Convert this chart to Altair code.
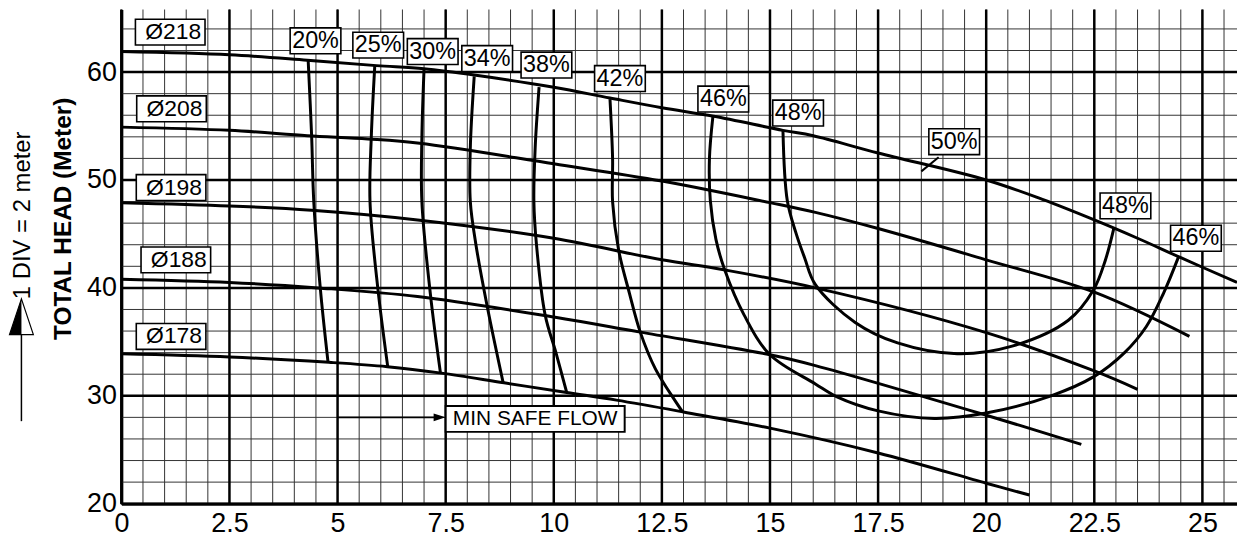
import altair as alt
import pandas as pd

# ---------------- axis ticks / grid ----------------
x_ticks = [0, 2.5, 5, 7.5, 10, 12.5, 15, 17.5, 20, 22.5, 25]
y_ticks = [20, 30, 40, 50, 60]
x_minor = [i * 0.5 for i in range(0, 52)]
y_minor = list(range(22, 68, 2))

# ---------------- impeller diameter curves ----------------
d218_x = [0, 2.5, 4.3, 5.9, 7.0, 8.2, 10, 11.3, 12.5, 13.7, 15.3, 16.0, 17.5, 20, 21.3, 22.5, 23.5, 24.5, 25.8]
d218_y = [61.9, 61.6, 61.1, 60.6, 60.3, 59.7, 58.6, 57.6, 56.7, 55.9, 54.6, 54.1, 52.5, 50.0, 48.2, 46.3, 44.6, 42.8, 40.5]

d208_x = [0, 2.5, 4.3, 5.7, 6.9, 10, 12.5, 15, 16.05, 17.5, 20, 22.5, 24.7]
d208_y = [54.9, 54.6, 54.1, 53.8, 53.4, 51.5, 49.9, 47.9, 47.0, 45.5, 42.6, 39.6, 35.5]

d198_x = [0, 2.5, 4.4, 6.85, 10, 12.5, 13.9, 16.05, 20, 22.5, 23.5]
d198_y = [47.9, 47.6, 47.2, 46.3, 44.6, 42.6, 41.7, 40.0, 35.85, 32.3, 30.6]

d188_x = [0, 2.5, 4.55, 6.85, 10, 12, 15, 16.05, 20, 22.2]
d188_y = [40.8, 40.5, 40.0, 39.2, 37.3, 35.9, 33.8, 32.8, 28.2, 25.5]

d178_x = [0, 2.5, 4.8, 6.15, 7.4, 8.85, 10.3, 11.45, 13.0, 15, 17.5, 20, 21.0]
d178_y = [33.9, 33.6, 33.1, 32.7, 32.1, 31.2, 30.3, 29.6, 28.5, 27.0, 24.7, 21.9, 20.8]

# ---------------- iso-efficiency curves ----------------
e20_x = [4.32, 4.4, 4.45, 4.6, 4.78]
e20_y = [61.1, 54.1, 48.0, 40.0, 33.1]
e25_x = [5.86, 5.78, 5.75, 5.93, 6.16]
e25_y = [60.55, 54.0, 48.0, 40.0, 32.7]
e30_x = [7.0, 6.95, 6.95, 7.15, 7.38]
e30_y = [60.3, 54.0, 48.0, 39.3, 32.1]
e34_x = [8.16, 8.07, 8.07, 8.2, 8.46, 8.83]
e34_y = [59.6, 53.0, 48.0, 44.0, 38.3, 31.2]
e38_x = [9.66, 9.57, 9.54, 9.6, 9.8, 10.05, 10.3]
e38_y = [58.6, 53.0, 48.0, 44.0, 37.5, 34.0, 30.3]
e42_x = [11.3, 11.36, 11.36, 11.5, 11.75, 12.0, 12.35, 12.98]
e42_y = [57.5, 52.0, 48.0, 43.5, 39.5, 35.9, 32.5, 28.5]
e46_x = [13.68, 13.6, 13.62, 13.75, 13.95, 14.4, 15.0, 16.05, 16.55, 17.5, 18.8, 20.0, 21.5, 22.5, 23.2, 23.7, 24.1, 24.45]
e46_y = [55.9, 52.0, 48.1, 44.5, 41.7, 37.5, 33.8, 31.1, 29.9, 28.6, 27.9, 28.4, 30.0, 31.8, 34.0, 36.4, 39.5, 42.9]
e48_x = [15.3, 15.4, 15.6, 15.8, 16.05, 16.97, 17.95, 19.33, 20.6, 21.9, 22.48, 22.75, 22.95]
e48_y = [54.6, 48.1, 45.1, 42.8, 40.3, 36.8, 34.9, 33.9, 34.6, 37.0, 39.8, 42.5, 45.5]
e50_x = [18.5, 18.9]
e50_y = [50.8, 52.1]

# ---------------- labels ----------------
dia_labels = ["Ø218", "Ø208", "Ø198", "Ø188", "Ø178"]
dia_label_x = [1.13, 1.16, 1.15, 1.26, 1.15]
dia_label_y = [63.7, 56.6, 49.3, 42.6, 35.5]

eff_labels = ["20%", "25%", "30%", "34%", "38%", "42%", "46%", "48%", "50%", "48%", "46%"]
eff_label_x = [4.49, 5.94, 7.2, 8.46, 9.83, 11.53, 13.92, 15.65, 19.26, 23.22, 24.85]
eff_label_y = [62.9, 62.5, 61.9, 61.25, 60.65, 59.4, 57.5, 56.2, 53.55, 47.6, 44.6]

msf_label = ["MIN SAFE FLOW"]
msf_label_x = [9.57]
msf_label_y = [27.85]
msf_arrow_x = [5.0, 7.36]
msf_arrow_y = [28.0, 28.0]

FONT = "Liberation Sans"

# ---------------- build tables ----------------
curves = {
    "d218": (d218_x, d218_y), "d208": (d208_x, d208_y), "d198": (d198_x, d198_y),
    "d188": (d188_x, d188_y), "d178": (d178_x, d178_y),
    "e20": (e20_x, e20_y), "e25": (e25_x, e25_y), "e30": (e30_x, e30_y),
    "e34": (e34_x, e34_y), "e38": (e38_x, e38_y), "e42": (e42_x, e42_y),
    "e46": (e46_x, e46_y), "e48": (e48_x, e48_y),
}
rows = []
for name, (xs_, ys_) in curves.items():
    for i, (a, b) in enumerate(zip(xs_, ys_)):
        rows.append({"curve": name, "order": i, "x": a, "y": b})
curve_df = pd.DataFrame(rows)
tick50_df = pd.DataFrame({"x": e50_x, "y": e50_y, "order": [0, 1]})

dia_df = pd.DataFrame({"label": dia_labels, "x": dia_label_x, "y": dia_label_y})
eff_df = pd.DataFrame({"label": eff_labels, "x": eff_label_x, "y": eff_label_y})
msf_df = pd.DataFrame({"label": msf_label, "x": msf_label_x, "y": msf_label_y})
arrow_df = pd.DataFrame({"x": msf_arrow_x, "y": msf_arrow_y})
arrow_head_df = pd.DataFrame({"x": msf_arrow_x[-1:], "y": msf_arrow_y[-1:]})
dummy = pd.DataFrame({"a": [0]})

xs = alt.Scale(domain=[0, 25.8], nice=False, zero=False)
ys = alt.Scale(domain=[20, 65.8], nice=False, zero=False)

x_axis = alt.Axis(
    values=x_ticks, labelExpr="'' + datum.value", title=None, grid=False, ticks=False,
    labelFontSize=27, labelFont=FONT, labelColor="black", domainColor="black", domainWidth=3,
    labelPadding=7, labelFlush=False, orient="bottom")
y_axis = alt.Axis(
    values=y_ticks, labelExpr="'' + datum.value", title="TOTAL HEAD (Meter)", grid=False,
    ticks=False, labelFontSize=27, labelFont=FONT, labelColor="black", domainColor="black",
    domainWidth=3, labelPadding=5, labelFlush=False, orient="left", titleFont=FONT,
    titleFontSize=24.5, titleFontWeight="bold", titleColor="black", titleAngle=270, titleX=-58,
    titleY=210, titleAlign="center", titleBaseline="middle")

X = lambda: alt.X("x:Q", scale=xs, axis=x_axis)
Y = lambda: alt.Y("y:Q", scale=ys, axis=y_axis)

minor_v = alt.Chart(pd.DataFrame({"x": x_minor})).mark_rule(color="#333", strokeWidth=1).encode(x=X())
minor_h = alt.Chart(pd.DataFrame({"y": y_minor})).mark_rule(color="#333", strokeWidth=1).encode(y=Y())
major_v = alt.Chart(pd.DataFrame({"x": x_ticks})).mark_rule(color="black", strokeWidth=2.5).encode(x=X())
major_h = alt.Chart(pd.DataFrame({"y": y_ticks})).mark_rule(color="black", strokeWidth=2.5).encode(y=Y())

lines = alt.Chart(curve_df).mark_line(color="black", strokeWidth=3, interpolate="catmull-rom", clip=True).encode(
    x=X(), y=Y(), detail="curve:N", order="order:Q")
tick50 = alt.Chart(tick50_df).mark_line(color="black", strokeWidth=2).encode(x=X(), y=Y(), order="order:Q")

dia_box = alt.Chart(dia_df).mark_point(
    shape="M-1,-0.371L1,-0.371L1,0.371L-1,0.371Z", size=4900, filled=True, fill="white",
    stroke="black", strokeWidth=1.6, opacity=1).encode(x=X(), y=Y())
dia_text = alt.Chart(dia_df).mark_text(font=FONT, fontSize=23, color="black", dx=3).encode(
    x=X(), y=Y(), text="label:N")
eff_box = alt.Chart(eff_df).mark_point(
    shape="M-1,-0.51L1,-0.51L1,0.51L-1,0.51Z", size=2601, filled=True, fill="white",
    stroke="black", strokeWidth=1.6, opacity=1).encode(x=X(), y=Y())
eff_text = alt.Chart(eff_df).mark_text(font=FONT, fontSize=23.5, color="black").encode(
    x=X(), y=Y(), text="label:N")
msf_box = alt.Chart(msf_df).mark_point(
    shape="M-1,-0.144L1,-0.144L1,0.144L-1,0.144Z", size=32400, filled=True, fill="white",
    stroke="black", strokeWidth=2, opacity=1).encode(x=X(), y=Y())
msf_text = alt.Chart(msf_df).mark_text(font=FONT, fontSize=21, color="black").encode(
    x=X(), y=Y(), text="label:N")
msf_arrow = alt.Chart(arrow_df).mark_line(color="black", strokeWidth=1.6).encode(x=X(), y=Y())
msf_head = alt.Chart(arrow_head_df).mark_point(
    shape="M1,0L-1,-0.65L-1,0.65Z", size=144, filled=True, color="black", opacity=1).encode(x=X(), y=Y())

# left-side "1 DIV = 2 meter" annotation
div_text = alt.Chart(dummy).mark_text(
    text="1 DIV = 2 meter", font=FONT, fontSize=24, angle=270, align="center", baseline="middle",
    color="black").encode(x=alt.value(-99), y=alt.value(207))
div_line = alt.Chart(dummy).mark_rule(color="black", strokeWidth=1.5).encode(
    x=alt.value(-100.5), y=alt.value(327), y2=alt.value(414))
div_head_outline = alt.Chart(dummy).mark_point(
    shape="M0,-1L0.667,1L-0.667,1Z", size=1296, filled=True, fill="white", stroke="black",
    strokeWidth=1.2, opacity=1).encode(x=alt.value(-100.5), y=alt.value(309))
div_head_fill = alt.Chart(dummy).mark_point(
    shape="M0,-1L0,1L-0.667,1Z", size=1296, filled=True, color="black", opacity=1).encode(
    x=alt.value(-100.5), y=alt.value(309))

chart = alt.layer(
    minor_v, minor_h, major_v, major_h, lines, tick50,
    msf_arrow, msf_head, msf_box, msf_text,
    dia_box, dia_text, eff_box, eff_text,
    div_text, div_line, div_head_outline, div_head_fill,
).properties(
    width=1122, height=497,
    autosize=alt.AutoSizeParams(type="none"),
    padding={"left": 114, "top": 0, "right": 0, "bottom": 35},
    background="white",
).configure_view(stroke=None)

chart.save("out.html", embed_options={"renderer": "svg", "actions": False})
